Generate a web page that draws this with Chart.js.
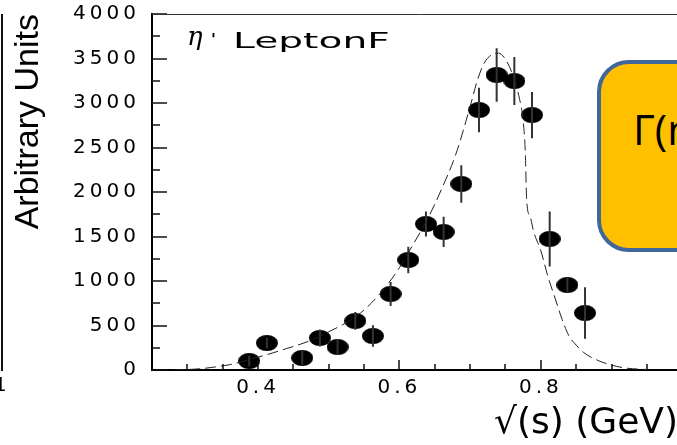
<!DOCTYPE html>
<html>
<head>
<meta charset="utf-8">
<script src="https://cdn.jsdelivr.net/npm/chart.js@4.4.0/dist/chart.umd.min.js"></script>
<style>
  html, body { margin: 0; padding: 0; overflow: hidden; background: #fff; }
  #wrap { position: relative; width: 677px; height: 445px; overflow: hidden; }
  #edge { position: absolute; left: 1px; top: 14px; width: 2px; height: 357px; background: #111; }
  #edgeLabel { position: absolute; left: -6px; top: 372px; font: 20px "DejaVu Sans"; color: #000; }
  #box { position: absolute; left: 597px; top: 60px; width: 160px; height: 184px;
         background: #FFC000; border: 4px solid #41679A; border-radius: 32px; }
  #box span { position: absolute; left: 32px; top: 44px; font: 42px "Open Sans", sans-serif; line-height: 1; color: #000; white-space: nowrap; }
</style>
</head>
<body>
<div id="wrap">
  <canvas id="mycanvas" width="687" height="445"></canvas>
  <div id="edge"></div>
  <div id="edgeLabel">1</div>
  <div id="box"><span>Γ(η</span></div>
</div>
<script>
// measured points (bin centres in GeV) and their errors
var mass   = [0.3875, 0.4125, 0.4625, 0.4875, 0.5125, 0.5375, 0.5625, 0.5875, 0.6125, 0.6375,
              0.6625, 0.6875, 0.7125, 0.7375, 0.7625, 0.7875, 0.8125, 0.8375, 0.8625];
var counts = [101, 303, 135, 360, 258, 551, 382, 854, 1236, 1640,
              1551, 2090, 2921, 3315, 3247, 2865, 1472, 955, 640];
var errors = [60, 60, 80, 95, 90, 100, 120, 135, 150, 140,
              170, 210, 250, 300, 270, 260, 310, 80, 290];

// dashed model curve
var fitMass   = [0.28, 0.30, 0.32, 0.34, 0.36, 0.38, 0.40, 0.42, 0.44, 0.46, 0.48, 0.50, 0.52, 0.54,
                 0.56, 0.58, 0.60, 0.62, 0.64, 0.66, 0.68, 0.70, 0.71, 0.72, 0.73, 0.74, 0.75, 0.76,
                 0.77, 0.775, 0.778, 0.78, 0.785, 0.79, 0.80, 0.81, 0.82, 0.83, 0.84, 0.85, 0.86,
                 0.88, 0.90, 0.92, 0.95];
var fitCounts = [0, 5, 15, 35, 60, 100, 145, 190, 240, 290, 350, 430, 510, 610,
                 750, 930, 1150, 1420, 1700, 2040, 2430, 2960, 3250, 3450, 3540, 3560, 3490, 3320,
                 3040, 2800, 2450, 1900, 1720, 1550, 1340, 1050, 810, 570, 380, 280, 200,
                 110, 55, 22, 5];

var xTicks = [0.4, 0.6, 0.8];
var yTicks = [0, 500, 1000, 1500, 2000, 2500, 3000, 3500, 4000];

var points = [], bars = [], curve = [];
for (var i in mass) {
  points.push({x: mass[i], y: counts[i]});
  bars.push({x: mass[i], y: counts[i] - errors[i]});
  bars.push({x: mass[i], y: counts[i] + errors[i]});
  bars.push({x: mass[i], y: null});
}
for (var j in fitMass) {
  curve.push({x: fitMass[j], y: fitCounts[j]});
}

// filled ellipse marker
var dot = document.createElement('canvas');
dot.width = 22; dot.height = 16;
var dctx = dot.getContext('2d');
dctx.fillStyle = '#000';
dctx.beginPath();
dctx.ellipse(11, 8, 11, 8, 0, 0, 2 * Math.PI);
dctx.fill();

var frame = {
  id: 'frame',
  beforeDraw: function(chart) {
    chart.ctx.letterSpacing = '0px';
  },
  afterDatasetsDraw: function(chart) {
    var ctx = chart.ctx, a = chart.chartArea;
    var xs = chart.scales.x, ys = chart.scales.y;
    ctx.save();
    ctx.strokeStyle = '#111';
    ctx.lineWidth = 1.5;
    ctx.beginPath();
    // inward ticks on y
    for (var v = 0; v <= 4000; v += 250) {
      var py = Math.round(ys.getPixelForValue(v));
      var len = (v % 500 === 0) ? 15 : 8;
      ctx.moveTo(a.left, py); ctx.lineTo(a.left + len, py);
    }
    // upward ticks on x
    for (var k = 6; k <= 19; k++) {
      var xv = k * 0.05;
      var px = Math.round(xs.getPixelForValue(xv));
      var l2 = (k % 4 === 0) ? 10 : 6;
      ctx.moveTo(px, a.bottom); ctx.lineTo(px, a.bottom - l2);
    }
    ctx.stroke();
    // top frame line
    ctx.strokeStyle = '#333';
    ctx.lineWidth = 1;
    ctx.beginPath();
    ctx.moveTo(a.left, a.top + 0.5); ctx.lineTo(chart.width, a.top + 0.5);
    ctx.stroke();
    // label in the corner
    ctx.fillStyle = '#000';
    ctx.textBaseline = 'alphabetic';
    ctx.font = 'italic 26px "DejaVu Serif"';
    ctx.fillText('η', 187, 45);
    ctx.font = 'bold 16px "DejaVu Sans"';
    ctx.fillText('\'', 211, 45);
    ctx.translate(233, 48);
    ctx.scale(1.78, 1);
    ctx.font = '22px "DejaVu Sans"';
    ctx.fillText('LeptonF', 0, 0);
    ctx.restore();
    // wide spacing for the tick labels drawn next
    ctx.letterSpacing = '4px';
  },
  afterDraw: function(chart) {
    chart.ctx.letterSpacing = '0px';
  }
};

var ctx = document.getElementById('mycanvas');

var plot = new Chart(ctx, {
  type: 'scatter',
  data: {
    datasets: [
      {
        label: 'model',
        data: curve,
        showLine: true,
        cubicInterpolationMode: 'monotone',
        borderColor: '#222',
        borderWidth: 1,
        borderDash: [11, 5],
        pointRadius: 0,
        fill: false
      },
      {
        label: 'errors',
        data: bars,
        showLine: true,
        spanGaps: false,
        borderColor: '#333',
        borderWidth: 2,
        pointRadius: 0
      },
      {
        label: 'data',
        data: points,
        pointStyle: dot,
        pointRadius: 8,
        backgroundColor: '#000',
        borderColor: '#000'
      }
    ]
  },
  options: {
    responsive: false,
    animation: false,
    events: [],
    layout: { padding: { top: 14, left: 0, right: 0, bottom: 0 } },
    plugins: {
      legend: { display: false },
      tooltip: { enabled: false }
    },
    scales: {
      x: {
        type: 'linear',
        min: 0.25,
        max: 0.994,
        afterBuildTicks: function(scale) {
          scale.ticks = xTicks.map(function(v) { return {value: v}; });
        },
        afterFit: function(scale) {
          scale.height = 75;
        },
        grid: { display: false, drawTicks: false },
        border: { display: true, color: '#000', width: 2 },
        ticks: {
          z: 1,
          padding: 6,
          color: '#000',
          font: { family: 'DejaVu Sans', size: 20 },
          maxRotation: 0,
          callback: function(v) { return v.toFixed(1); }
        },
        title: {
          display: true,
          text: '√(s) (GeV)',
          align: 'end',
          color: '#000',
          font: { family: 'DejaVu Sans', size: 36 },
          padding: { top: 0, bottom: 0 }
        }
      },
      y: {
        min: 0,
        max: 4000,
        afterBuildTicks: function(scale) {
          scale.ticks = yTicks.map(function(v) { return {value: v}; });
        },
        afterFit: function(scale) {
          scale.width = 152;
          scale.paddingTop = 0;
          scale.paddingBottom = 0;
        },
        grid: { display: false, drawTicks: false },
        border: { display: true, color: '#000', width: 2 },
        ticks: {
          z: 1,
          padding: 12,
          color: '#000',
          font: { family: 'DejaVu Sans', size: 20 },
          callback: function(v) { return String(v); }
        },
        title: {
          display: true,
          text: 'Arbitrary Units',
          align: 'end',
          color: '#000',
          font: { family: 'Liberation Sans', size: 34 },
          padding: { top: 8, bottom: 0 }
        }
      }
    }
  },
  plugins: [frame]
});
</script>
</body>
</html>
